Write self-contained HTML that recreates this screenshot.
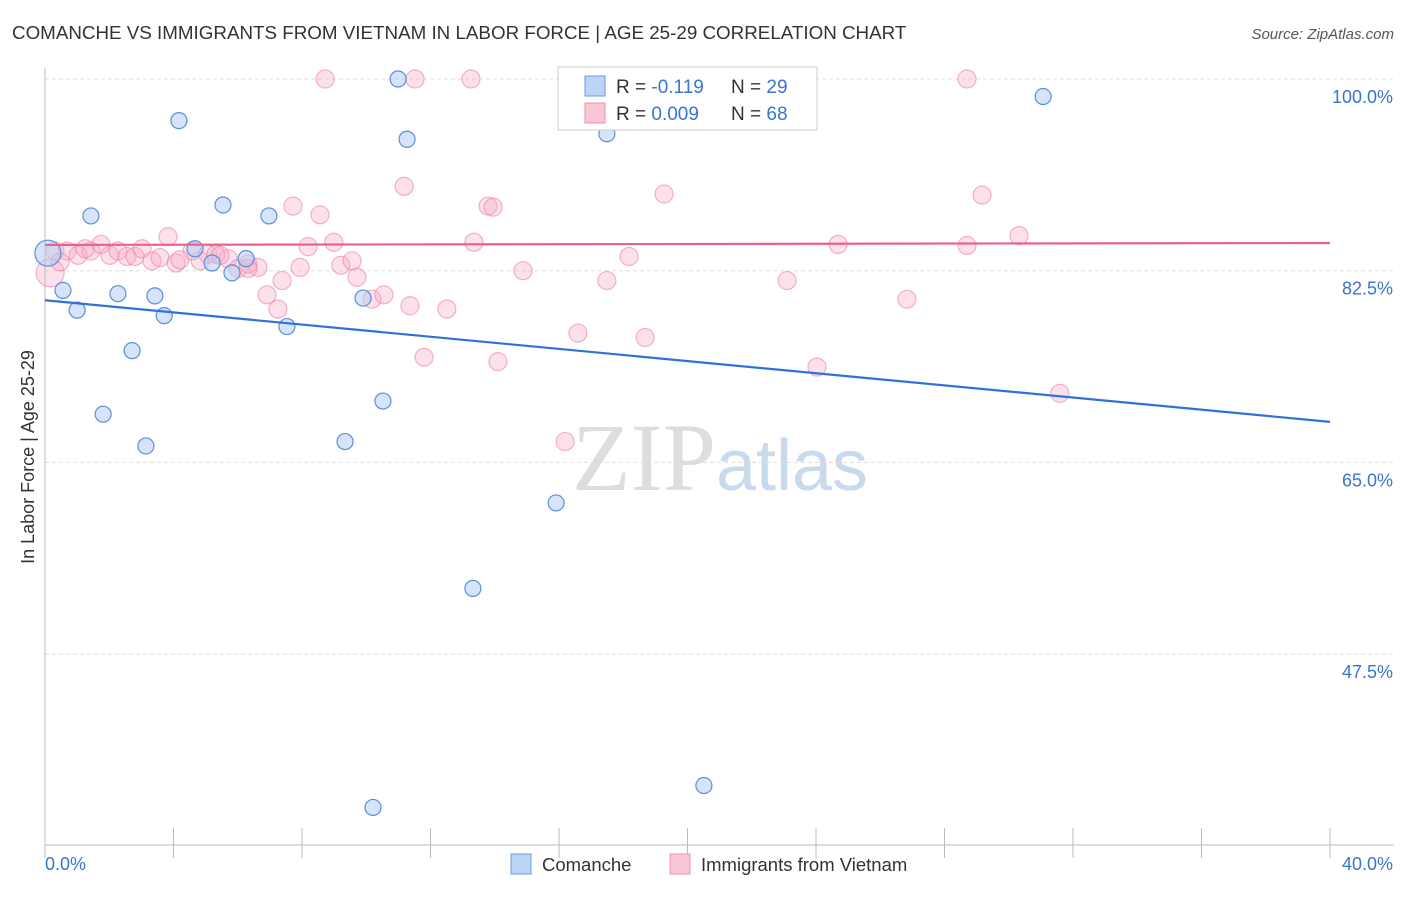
<!DOCTYPE html>
<html><head><meta charset="utf-8"><style>
body{margin:0;background:#fff;font-family:"Liberation Sans",sans-serif;}
</style></head><body>
<svg id="chart" width="1406" height="892" xmlns="http://www.w3.org/2000/svg" style="font-family:'Liberation Sans',sans-serif">
<text x="12" y="39" font-size="18.8" fill="#333">COMANCHE VS IMMIGRANTS FROM VIETNAM IN LABOR FORCE | AGE 25-29 CORRELATION CHART</text>
<text x="1394" y="39" font-size="15" fill="#555" font-style="italic" text-anchor="end">Source: ZipAtlas.com</text>
<text x="720" y="490" font-size="96" fill="#ddd" text-anchor="middle" font-family="Liberation Serif"><tspan>ZIP</tspan><tspan fill="#c9d9ee" font-family="Liberation Sans" font-size="72">atlas</tspan></text>
<text transform="translate(34,457) rotate(-90)" font-size="18" fill="#333" text-anchor="middle">In Labor Force | Age 25-29</text>
<g id="grid"></g><g id="axes"></g><g id="pts"></g><g id="lines"></g>
<g>
<rect x="558" y="67" width="259" height="63" fill="#fff" stroke="#ccc"/>
<rect x="585" y="76" width="20" height="20" fill="#bcd4f5" stroke="#6a9be0"/>
<rect x="585" y="103" width="20" height="20" fill="#f9c6d6" stroke="#ee8fae"/>
<text x="616" y="93" font-size="19" fill="#333">R = <tspan fill="#3a74d0">-0.119</tspan><tspan x="731">N = </tspan><tspan fill="#3a74d0">29</tspan></text>
<text x="616" y="120" font-size="19" fill="#333">R = <tspan fill="#3a74d0">0.009</tspan><tspan x="731">N = </tspan><tspan fill="#3a74d0">68</tspan></text>
</g>
<g>
<rect x="511" y="854" width="20" height="20" fill="#bcd4f5" stroke="#6a9be0"/>
<text x="542" y="871" font-size="18.5" fill="#333">Comanche</text>
<rect x="670" y="854" width="20" height="20" fill="#f9c6d6" stroke="#ee8fae"/>
<text x="701" y="871" font-size="18.5" fill="#333">Immigrants from Vietnam</text>
</g>
</svg>
<script>
const yTicks=[100,82.5,65,47.5];
const xTickLabels=["0.0%","40.0%"];
const comancheX=[0.56,1.0,1.43,1.81,2.27,2.71,3.14,3.42,3.71,4.17,4.67,5.20,5.54,5.82,6.26,6.97,7.53,9.34,9.90,10.21,10.52,10.99,11.27,13.32,15.91,17.49,20.51,31.07,0.09];
const comancheY=[80.7,78.9,87.5,69.4,80.4,75.2,66.5,80.2,78.4,96.2,84.5,83.2,88.5,82.3,83.6,87.5,77.4,66.9,80.0,33.5,70.6,100,94.5,53.5,61.3,95.0,35.5,98.4,84.1];
const vietX=[8.72,11.52,13.26,28.70,11.18,19.27,29.17,7.72,8.56,13.79,13.95,30.32,3.83,13.35,8.99,8.19,24.69,28.70,0.31,0.68,1.03,1.43,1.74,2.02,2.27,2.55,2.80,3.02,3.33,3.58,4.08,4.58,4.83,5.07,5.32,5.70,6.01,6.32,6.63,7.38,6.91,7.25,7.94,9.21,9.56,9.71,10.18,10.55,11.36,12.51,11.80,14.10,14.88,16.59,16.19,17.49,18.18,18.68,23.10,24.03,26.83,31.59,0.16,0.47,1.25,4.20,5.45,6.32];
const vietY=[100,100,100,100,90.2,89.5,89.4,88.4,87.6,88.4,88.3,85.7,85.6,85.1,85.1,84.7,84.9,84.8,84.3,84.3,83.9,84.3,84.9,83.9,84.3,83.8,83.8,84.5,83.4,83.7,83.2,84.3,83.4,84.0,84.0,83.6,82.7,83.1,82.8,81.6,80.3,79.0,82.8,83.0,83.4,81.9,79.9,80.3,79.3,79.0,74.6,74.2,82.5,76.8,66.9,81.6,83.8,76.4,81.6,73.7,79.9,71.3,82.3,83.3,84.5,83.5,83.9,82.7];
const trendX=[0,40];
const comancheTrend=[79.8,68.7];
const vietTrend=[84.85,85.03];
const ns="http://www.w3.org/2000/svg";
const X=v=>45+v*32.125, Y=v=>79+(100-v)*10.954;
function mk(t,a,p){const e=document.createElementNS(ns,t);for(const k in a)e.setAttribute(k,a[k]);p.appendChild(e);return e;}
const grid=document.getElementById('grid'),axes=document.getElementById('axes'),pts=document.getElementById('pts'),lines=document.getElementById('lines');
yTicks.forEach(t=>{
const l=mk('line',{x1:45,x2:1394,y1:Y(t),y2:Y(t),stroke:'#ddd','stroke-dasharray':'4,3'},grid);


const tx=mk('text',{x:1393,y:Y(t)+24,'font-size':18,fill:'#3a74d0','text-anchor':'end'},axes);
tx.textContent=t.toFixed(1)+'%';


});
mk('line',{x1:45,x2:45,y1:68,y2:845,stroke:'#bbb'},axes);
mk('line',{x1:45,x2:1394,y1:845,y2:845,stroke:'#bbb'},axes);
for(let i=0;i<=10;i++){mk('line',{x1:X(i*4),x2:X(i*4),y1:828,y2:858,stroke:'#bbb'},axes);}
const xl0=mk('text',{x:45,y:870,'font-size':18,fill:'#3a74d0'},axes);xl0.textContent=xTickLabels[0];


const xl1=mk('text',{x:1393,y:870,'font-size':18,fill:'#3a74d0','text-anchor':'end'},axes);xl1.textContent=xTickLabels[1];


vietX.forEach((v,i)=>{
const c=mk('circle',{cx:X(v),cy:Y(vietY[i]),r:i==62?14:9,fill:'rgba(246,170,195,0.35)',stroke:'rgba(236,130,165,0.6)','stroke-width':1.2},pts);


});
comancheX.forEach((v,i)=>{
const c=mk('circle',{cx:X(v),cy:Y(comancheY[i]),r:i==28?13:8,fill:'rgba(180,206,244,0.55)',stroke:'#5b8fd8','stroke-width':1.2},pts);


});
function trend(ys,color,name){
const l=mk('line',{x1:X(trendX[0]),y1:Y(ys[0]),x2:X(trendX[1]),y2:Y(ys[1]),stroke:color,'stroke-width':2.2},lines);

}
trend(comancheTrend,'#2f72d6','comanche-trendline');
trend(vietTrend,'#e8628e','vietnam-trendline');
</script>
</body></html>
